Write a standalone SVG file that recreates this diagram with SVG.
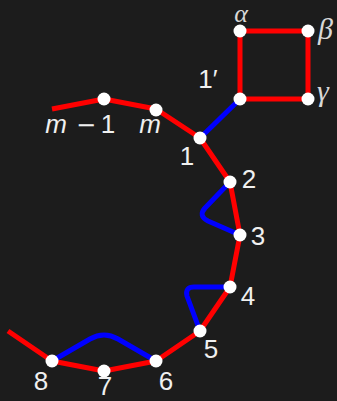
<svg xmlns="http://www.w3.org/2000/svg" width="337" height="401" viewBox="0 0 337 401">
<style>
.bg{fill:#1c1c1c}
.r{stroke:#ff0000;stroke-width:5;fill:none;stroke-linejoin:round}
.b{stroke:#0000ff;stroke-width:5;fill:none;stroke-linejoin:round}
.n{fill:#ffffff}
.t{fill:#f0f0f0;font-family:"Liberation Sans","DejaVu Sans",sans-serif;font-size:26px;text-anchor:middle}
.g{fill:#d8d8d8;font-family:"Liberation Serif","DejaVu Serif",serif;font-style:italic;font-size:30px}
.i{font-style:italic}
.mi{font-family:"DejaVu Sans",sans-serif;font-size:24px}
</style>
<rect class="bg" x="0" y="0" width="337" height="401"/>
<g id="connectors">
<polyline class="r" points="52,109 104,99 156,109 200,138 230,182 240,235 230,287 200,331 156,361 104,371 52,361 8,331"/>
<polygon class="r" points="240,31 308,31 308,99 240,99"/>
<line class="b" x1="200" y1="138" x2="240" y2="99"/>
<path class="b" d="M230,182 L205,208 Q198,216 208,221 L240,235"/>
<path class="b" d="M230,287 L194,287 Q185,287 187,296 L200,331"/>
<path class="b" d="M52,361 L90,339 Q104,331 118,339 L156,361"/>
</g>
<g id="node-alpha"><circle class="n" cx="240" cy="31" r="6.5"/><text class="g" x="241" y="22" text-anchor="middle" style="font-size:26px">α</text></g>
<g id="node-beta"><circle class="n" cx="308" cy="31" r="6.5"/><text class="g" x="318" y="39">β</text></g>
<g id="node-gamma"><circle class="n" cx="308" cy="99" r="6.5"/><text class="g" x="317" y="101">γ</text></g>
<g id="node-1p"><circle class="n" cx="240" cy="99" r="6.5"/><text class="t" x="208" y="88" text-anchor="start">1′</text></g>
<g id="node-m1"><circle class="n" cx="104" cy="99" r="6.5"/><text class="t" y="133"><tspan class="i" x="56">m</tspan><tspan class="mi" x="86">−</tspan><tspan x="108">1</tspan></text></g>
<g id="node-m"><circle class="n" cx="156" cy="110" r="6.5"/><text class="t i" x="150" y="133">m</text></g>
<g id="node-1"><circle class="n" cx="200" cy="138" r="6.5"/><text class="t" x="187" y="165">1</text></g>
<g id="node-2"><circle class="n" cx="230" cy="182" r="6.5"/><text class="t" x="249" y="188">2</text></g>
<g id="node-3"><circle class="n" cx="240" cy="235" r="6.5"/><text class="t" x="258" y="245">3</text></g>
<g id="node-4"><circle class="n" cx="230" cy="287" r="6.5"/><text class="t" x="248" y="305">4</text></g>
<g id="node-5"><circle class="n" cx="200" cy="331" r="6.5"/><text class="t" x="211" y="358">5</text></g>
<g id="node-6"><circle class="n" cx="156" cy="361" r="6.5"/><text class="t" x="166" y="390">6</text></g>
<g id="node-7"><circle class="n" cx="104" cy="371" r="6.5"/><text class="t" x="105" y="395">7</text></g>
<g id="node-8"><circle class="n" cx="52" cy="361" r="6.5"/><text class="t" x="41" y="390">8</text></g>
</svg>
